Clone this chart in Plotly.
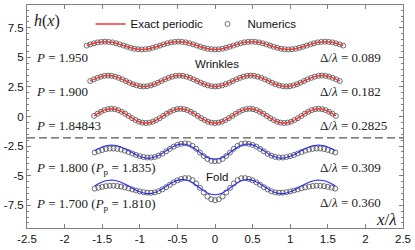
import plotly.graph_objects as go

# ---------------- data ----------------
# Wrinkles, P = 1.950  (Delta/lambda = 0.089)
x_p1950 = [-1.706, -1.658, -1.609, -1.560, -1.511, -1.463, -1.414, -1.365, -1.316, -1.268, -1.219, -1.170,
           -1.121, -1.073, -1.024, -0.975, -0.926, -0.878, -0.829, -0.780, -0.731, -0.683, -0.634, -0.585,
           -0.536, -0.488, -0.439, -0.390, -0.341, -0.293, -0.244, -0.195, -0.146, -0.098, -0.049, 0.0,
           0.049, 0.098, 0.146, 0.195, 0.244, 0.293, 0.341, 0.390, 0.439, 0.488, 0.536, 0.585,
           0.634, 0.683, 0.731, 0.780, 0.829, 0.878, 0.926, 0.975, 1.024, 1.073, 1.121, 1.170,
           1.219, 1.268, 1.316, 1.365, 1.414, 1.463, 1.511, 1.560, 1.609, 1.658, 1.706]
h_p1950 = [6.00, 6.10, 6.19, 6.27, 6.31, 6.33, 6.31, 6.27, 6.19, 6.10, 6.00, 5.90, 5.81, 5.73, 5.69, 5.67,
           5.69, 5.73, 5.81, 5.90, 6.00, 6.10, 6.19, 6.27, 6.31, 6.33, 6.31, 6.27, 6.19, 6.10, 6.00, 5.90,
           5.81, 5.73, 5.69, 5.67,
           5.69, 5.73, 5.81, 5.90, 6.00, 6.10, 6.19, 6.27, 6.31, 6.33, 6.31, 6.27, 6.19, 6.10, 6.00, 5.90,
           5.81, 5.73, 5.69, 5.67, 5.69, 5.73, 5.81, 5.90, 6.00, 6.10, 6.19, 6.27, 6.31, 6.33, 6.31, 6.27,
           6.19, 6.10, 6.00]

# Wrinkles, P = 1.900  (Delta/lambda = 0.182)
x_p1900 = [-1.659, -1.612, -1.564, -1.517, -1.469, -1.422, -1.375, -1.327, -1.280, -1.232, -1.185, -1.138,
           -1.090, -1.043, -0.995, -0.948, -0.901, -0.853, -0.806, -0.758, -0.711, -0.664, -0.616, -0.569,
           -0.521, -0.474, -0.427, -0.379, -0.332, -0.284, -0.237, -0.190, -0.142, -0.095, -0.047, 0.0,
           0.047, 0.095, 0.142, 0.190, 0.237, 0.284, 0.332, 0.379, 0.427, 0.474, 0.521, 0.569,
           0.616, 0.664, 0.711, 0.758, 0.806, 0.853, 0.901, 0.948, 0.995, 1.043, 1.090, 1.138,
           1.185, 1.232, 1.280, 1.327, 1.375, 1.422, 1.469, 1.517, 1.564, 1.612, 1.659]
h_p1900 = [3.00, 3.14, 3.27, 3.37, 3.44, 3.46, 3.44, 3.37, 3.27, 3.14, 3.00, 2.86, 2.73, 2.63, 2.56, 2.54,
           2.56, 2.63, 2.73, 2.86, 3.00, 3.14, 3.27, 3.37, 3.44, 3.46, 3.44, 3.37, 3.27, 3.14, 3.00, 2.86,
           2.73, 2.63, 2.56, 2.54,
           2.56, 2.63, 2.73, 2.86, 3.00, 3.14, 3.27, 3.37, 3.44, 3.46, 3.44, 3.37, 3.27, 3.14, 3.00, 2.86,
           2.73, 2.63, 2.56, 2.54, 2.56, 2.63, 2.73, 2.86, 3.00, 3.14, 3.27, 3.37, 3.44, 3.46, 3.44, 3.37,
           3.27, 3.14, 3.00]

# Wrinkles, P = 1.84843  (Delta/lambda = 0.2825)
x_p1848 = [-1.608, -1.562, -1.516, -1.470, -1.424, -1.379, -1.333, -1.287, -1.241, -1.195, -1.149, -1.103,
           -1.057, -1.011, -0.965, -0.919, -0.873, -0.827, -0.781, -0.735, -0.689, -0.643, -0.597, -0.551,
           -0.505, -0.460, -0.414, -0.368, -0.322, -0.276, -0.230, -0.184, -0.138, -0.092, -0.046, 0.0,
           0.046, 0.092, 0.138, 0.184, 0.230, 0.276, 0.322, 0.368, 0.414, 0.460, 0.505, 0.551,
           0.597, 0.643, 0.689, 0.735, 0.781, 0.827, 0.873, 0.919, 0.965, 1.011, 1.057, 1.103,
           1.149, 1.195, 1.241, 1.287, 1.333, 1.379, 1.424, 1.470, 1.516, 1.562, 1.608]
h_p1848 = [0.05, 0.24, 0.40, 0.54, 0.62, 0.65, 0.62, 0.54, 0.40, 0.24, 0.05, -0.14, -0.30, -0.44, -0.52, -0.55,
           -0.52, -0.44, -0.30, -0.14, 0.05, 0.24, 0.40, 0.54, 0.62, 0.65, 0.62, 0.54, 0.40, 0.24, 0.05, -0.14,
           -0.30, -0.44, -0.52, -0.55,
           -0.52, -0.44, -0.30, -0.14, 0.05, 0.24, 0.40, 0.54, 0.62, 0.65, 0.62, 0.54, 0.40, 0.24, 0.05, -0.14,
           -0.30, -0.44, -0.52, -0.55, -0.52, -0.44, -0.30, -0.14, 0.05, 0.24, 0.40, 0.54, 0.62, 0.65, 0.62,
           0.54, 0.40, 0.24, 0.05]

# Fold curves share one x grid
x_fold = [-1.60, -1.55, -1.50, -1.45, -1.40, -1.35, -1.30, -1.25, -1.20, -1.15, -1.10, -1.05, -1.00,
          -0.95, -0.90, -0.85, -0.80, -0.75, -0.70, -0.65, -0.60, -0.55, -0.50, -0.45, -0.40, -0.35,
          -0.30, -0.25, -0.20, -0.15, -0.10, -0.05, 0.00, 0.05, 0.10, 0.15, 0.20, 0.25, 0.30, 0.35,
          0.40, 0.45, 0.50, 0.55, 0.60, 0.65, 0.70, 0.75, 0.80, 0.85, 0.90, 0.95, 1.00, 1.05, 1.10,
          1.15, 1.20, 1.25, 1.30, 1.35, 1.40, 1.45, 1.50, 1.55, 1.60]

# Fold, P = 1.800 (P_p = 1.835): periodic solution (blue) and numerics
h_p1800_periodic = [-2.90, -2.73, -2.58, -2.48, -2.43, -2.43, -2.48, -2.58, -2.72, -2.88, -3.06, -3.23,
                    -3.37, -3.47, -3.52, -3.51, -3.43, -3.29, -3.11, -2.90, -2.70, -2.53, -2.40, -2.34,
                    -2.35, -2.44, -2.60, -2.81, -3.05, -3.27, -3.46, -3.58, -3.62, -3.58, -3.46, -3.27,
                    -3.05, -2.81, -2.60, -2.44, -2.35, -2.34, -2.40, -2.53, -2.70, -2.90, -3.11, -3.29,
                    -3.43, -3.51, -3.52, -3.47, -3.37, -3.23, -3.06, -2.88, -2.72, -2.58, -2.48, -2.43,
                    -2.43, -2.48, -2.58, -2.73, -2.90]
h_p1800_numerics = [-3.04, -2.93, -2.83, -2.75, -2.71, -2.71, -2.74, -2.80, -2.89, -3.00, -3.13, -3.25,
                    -3.35, -3.43, -3.47, -3.47, -3.42, -3.31, -3.15, -2.95, -2.74, -2.55, -2.40, -2.31,
                    -2.27, -2.32, -2.48, -2.73, -3.05, -3.34, -3.59, -3.75, -3.78, -3.75, -3.59, -3.34,
                    -3.05, -2.73, -2.48, -2.32, -2.27, -2.31, -2.40, -2.55, -2.74, -2.95, -3.15, -3.31,
                    -3.42, -3.47, -3.47, -3.43, -3.35, -3.25, -3.13, -3.00, -2.89, -2.80, -2.74, -2.71,
                    -2.71, -2.75, -2.83, -2.93, -3.04]

# Fold, P = 1.700 (P_p = 1.810)
h_p1700_periodic = [-5.87, -5.69, -5.54, -5.44, -5.39, -5.39, -5.45, -5.56, -5.71, -5.88, -6.06, -6.23,
                    -6.37, -6.47, -6.52, -6.51, -6.43, -6.29, -6.11, -5.90, -5.70, -5.53, -5.40, -5.34,
                    -5.35, -5.44, -5.60, -5.81, -6.05, -6.27, -6.46, -6.58, -6.62, -6.58, -6.46, -6.27,
                    -6.05, -5.81, -5.60, -5.44, -5.35, -5.34, -5.40, -5.53, -5.70, -5.90, -6.11, -6.29,
                    -6.43, -6.51, -6.52, -6.47, -6.37, -6.23, -6.06, -5.88, -5.71, -5.56, -5.45, -5.39,
                    -5.39, -5.44, -5.54, -5.69, -5.87]
h_p1700_numerics = [-6.10, -6.02, -5.95, -5.89, -5.86, -5.85, -5.88, -5.93, -6.00, -6.08, -6.17, -6.26,
                    -6.34, -6.40, -6.44, -6.45, -6.42, -6.32, -6.17, -5.98, -5.77, -5.57, -5.40, -5.28,
                    -5.21, -5.22, -5.38, -5.67, -6.04, -6.43, -6.77, -7.00, -7.08, -7.00, -6.77, -6.43,
                    -6.04, -5.67, -5.38, -5.22, -5.21, -5.28, -5.40, -5.57, -5.77, -5.98, -6.17, -6.32,
                    -6.42, -6.45, -6.44, -6.40, -6.34, -6.26, -6.17, -6.08, -6.00, -5.93, -5.88, -5.85,
                    -5.86, -5.89, -5.95, -6.02, -6.10]

# wrinkle / fold boundary
fold_threshold = -1.8

# labels
p_labels = ["<i>P</i> = 1.950", "<i>P</i> = 1.900", "<i>P</i> = 1.84843",
            "<i>P</i> = 1.800 (<i>P</i><sub>p</sub> = 1.835)",
            "<i>P</i> = 1.700 (<i>P</i><sub>p</sub> = 1.810)"]
delta_labels = ["Δ/<i>λ</i> = 0.089", "Δ/<i>λ</i> = 0.182", "Δ/<i>λ</i> = 0.2825",
                "Δ/<i>λ</i> = 0.309", "Δ/<i>λ</i> = 0.360"]
p_label_rows = [5.0, 2.15, -0.8, -4.38, -7.4]
delta_label_rows = [5.0, 2.15, -0.8, -4.3, -7.28]

x_tick_vals = [-2.5, -2, -1.5, -1, -0.5, 0, 0.5, 1, 1.5, 2, 2.5]
x_tick_text = ["-2.5", "-2", "-1.5", "-1", "-0.5", "0", "0.5", "1", "1.5", "2", "2.5"]
y_tick_vals = [-7.5, -5, -2.5, 0, 2.5, 5, 7.5]
y_tick_text = ["-7.5", "-5", "-2.5", "0", "2.5", "5", "7.5"]

# ---------------- figure ----------------
RED = "#f23a3a"
BLUE = "#2a2aff"
AX = "#808080"
SANS = "Liberation Sans, Arial, sans-serif"
SERIF = "Liberation Serif, Times New Roman, serif"

num_marker = dict(symbol="circle", size=5, color="rgba(255,255,255,0)",
                  line=dict(color="#4a4a4a", width=0.8))

fig = go.Figure()

wrinkles = [(x_p1950, h_p1950), (x_p1900, h_p1900), (x_p1848, h_p1848)]
folds = [(h_p1800_periodic, h_p1800_numerics), (h_p1700_periodic, h_p1700_numerics)]

first = True
for xs, hs in wrinkles:
    fig.add_trace(go.Scatter(x=xs, y=hs, mode="markers", marker=num_marker,
                             name="Numerics", showlegend=first, legendrank=2))
    first = False
for hp, hn in folds:
    fig.add_trace(go.Scatter(x=x_fold, y=hn, mode="markers", marker=num_marker,
                             name="Numerics", showlegend=False))

first = True
for xs, hs in wrinkles:
    fig.add_trace(go.Scatter(x=xs, y=hs, mode="lines", line=dict(color=RED, width=1.5, shape="spline"),
                             name="Exact periodic", showlegend=first, legendrank=1))
    first = False
for hp, hn in folds:
    fig.add_trace(go.Scatter(x=x_fold, y=hp, mode="lines", line=dict(color=BLUE, width=1.1, shape="spline"),
                             name="Exact periodic (P_p)", showlegend=False))

fig.add_shape(type="line", xref="paper", x0=0, x1=1, yref="y", y0=fold_threshold, y1=fold_threshold,
              line=dict(color="#555555", width=1.2, dash="8px,4px"))

ann = []
for txt, yy in zip(p_labels, p_label_rows):
    ann.append(dict(x=-2.41, y=yy, text=txt, xanchor="left", yanchor="middle", showarrow=False,
                    font=dict(family=SERIF, size=13, color="#222222")))
for txt, yy in zip(delta_labels, delta_label_rows):
    ann.append(dict(x=1.37, y=yy, text=txt, xanchor="left", yanchor="middle", showarrow=False,
                    font=dict(family=SERIF, size=13, color="#222222")))
ann.append(dict(x=-2.44, y=8.1, text="<i>h</i>(<i>x</i>)", xanchor="left", yanchor="middle",
                showarrow=False, font=dict(family=SERIF, size=16, color="#222222")))
ann.append(dict(x=2.45, y=-8.72, text="<i>x</i>/<i>λ</i>", xanchor="right", yanchor="middle",
                showarrow=False, font=dict(family=SERIF, size=17, color="#222222")))
ann.append(dict(x=0.03, y=4.45, text="Wrinkles", xanchor="center", yanchor="middle", showarrow=False,
                font=dict(family=SANS, size=11.5, color="#111111")))
ann.append(dict(x=0.02, y=-5.1, text="Fold", xanchor="center", yanchor="middle", showarrow=False,
                font=dict(family=SANS, size=11.5, color="#111111")))

axis_common = dict(showgrid=False, zeroline=False, showline=True, linecolor=AX, linewidth=1,
                   mirror="ticks", ticks="inside", ticklen=4, tickcolor=AX, tickwidth=1,
                   tickfont=dict(family=SANS, size=11.5, color="#111111"))

fig.update_layout(
    width=415, height=250,
    margin=dict(l=26, r=11, t=4, b=22),
    paper_bgcolor="white", plot_bgcolor="white",
    xaxis=dict(range=[-2.5, 2.5], tickmode="array", tickvals=x_tick_vals, ticktext=x_tick_text,
               **axis_common),
    yaxis=dict(range=[-9.43, 9.43], tickmode="array", tickvals=y_tick_vals, ticktext=y_tick_text,
               minor=dict(tickmode="linear", tick0=0, dtick=0.5, ticks="inside", ticklen=2,
                          tickcolor=AX, tickwidth=1),
               **axis_common),
    legend=dict(orientation="h", x=0.169, xanchor="left", y=0.915, yanchor="middle",
                bgcolor="rgba(0,0,0,0)", font=dict(family=SANS, size=11.5, color="#111111"),
                itemwidth=30, entrywidth=72),
    annotations=ann,
    showlegend=True,
)

fig.write_html("out.html", config={"displayModeBar": False},
               post_script="document.body.style.margin='0';document.body.style.padding='0';")
